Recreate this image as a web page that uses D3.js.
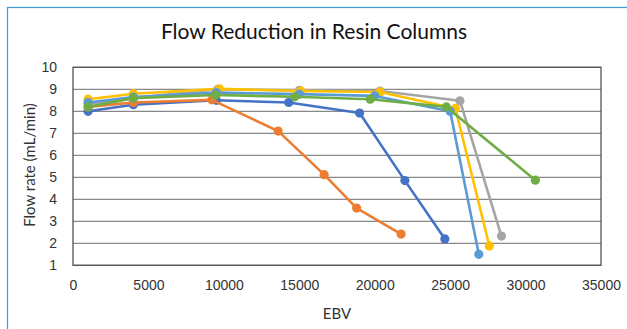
<!DOCTYPE html>
<html>
<head>
<meta charset="utf-8">
<script src="https://cdn.jsdelivr.net/npm/d3@7"></script>
<style>
  body { margin: 0; background: #fff; }
  svg { display: block; font-family: Lato, "Open Sans", sans-serif; }
</style>
</head>
<body>
<svg></svg>
<script>
// values
var xTicks = [0, 5000, 10000, 15000, 20000, 25000, 30000, 35000];
var yTicks = [1, 2, 3, 4, 5, 6, 7, 8, 9, 10];

var seriesNames = ["A", "B", "C", "D", "E", "F"];
var seriesColors = ["#4472C4", "#ED7D31", "#A5A5A5", "#FFC000", "#5B9BD5", "#70AD47"];

var darkBlue  = [[1000, 8.0], [4000, 8.3], [9500, 8.5], [14300, 8.4], [19000, 7.92], [22000, 4.85], [24650, 2.2]];
var orange    = [[1000, 8.2], [4000, 8.4], [9200, 8.52], [13600, 7.1], [16650, 5.12], [18800, 3.6], [21750, 2.42]];
var gray      = [[1000, 8.35], [4000, 8.6], [9600, 9.0], [15000, 8.95], [20350, 8.92], [25650, 8.48], [28400, 2.33]];
var yellow    = [[1000, 8.55], [4000, 8.8], [9700, 9.02], [15100, 8.92], [20350, 8.88], [25350, 8.13], [27600, 1.88]];
var lightBlue = [[1000, 8.4], [4000, 8.65], [9500, 8.85], [15000, 8.78], [20000, 8.7], [25000, 8.0], [26900, 1.5]];
var green     = [[1000, 8.2], [4000, 8.6], [9450, 8.74], [14700, 8.66], [19700, 8.55], [24750, 8.2], [30650, 4.87]];

var allSeries = [darkBlue, orange, gray, yellow, lightBlue, green];

function draw(){
  var width = 627, height = 329;
  var svg = d3.select("svg").attr("width", width).attr("height", height);

  // outer frame
  svg.append("rect")
     .attr("x", 7.5).attr("y", 7.5)
     .attr("width", 640).attr("height", 340)
     .attr("fill", "none")
     .attr("stroke", "#3E9AD6")
     .attr("stroke-width", 1.2);

  var x = d3.scaleLinear().domain([0, 35000]).range([73, 601]);
  var y = d3.scaleLinear().domain([1, 10]).range([265.3, 67.3]);

  // gridlines
  svg.append("g")
     .selectAll("line")
     .data(yTicks)
     .enter()
     .append("line")
     .attr("x1", x(0)).attr("x2", x(35000))
     .attr("y1", function(d){ return y(d); })
     .attr("y2", function(d){ return y(d); })
     .attr("stroke", "#6b6b6b")
     .attr("stroke-width", 1);

  // plot border
  svg.append("rect")
     .attr("x", x(0)).attr("y", y(10))
     .attr("width", x(35000) - x(0))
     .attr("height", y(1) - y(10))
     .attr("fill", "none")
     .attr("stroke", "#555")
     .attr("stroke-width", 1.3);

  var yAxis = d3.axisLeft(y).tickValues(yTicks).tickSize(0).tickPadding(16);
  svg.append("g")
     .attr("transform", "translate(" + x(0) + ",0)")
     .call(yAxis)
     .call(function(g){ g.select(".domain").remove(); })
     .selectAll("text")
     .attr("font-size", 14)
     .attr("fill", "#333");

  var xAxis = d3.axisBottom(x).tickValues(xTicks).tickSize(0).tickPadding(15).tickFormat(d3.format("d"));
  svg.append("g")
     .attr("transform", "translate(0," + y(1) + ")")
     .call(xAxis)
     .call(function(g){ g.select(".domain").remove(); })
     .selectAll("text")
     .attr("font-size", 14)
     .attr("fill", "#333");

  var line = d3.line()
               .x(function(d){ return x(d[0]); })
               .y(function(d){ return y(d[1]); });

  var groups = svg.append("g")
                  .selectAll("g")
                  .data(allSeries)
                  .enter()
                  .append("g");

  groups.append("path")
        .attr("d", line)
        .attr("fill", "none")
        .attr("stroke", function(d, i){ return seriesColors[i]; })
        .attr("stroke-width", 2.6)
        .attr("stroke-linejoin", "round");

  groups.each(function(s, i){
    d3.select(this).selectAll("circle")
      .data(s)
      .enter()
      .append("circle")
      .attr("cx", function(d){ return x(d[0]); })
      .attr("cy", function(d){ return y(d[1]); })
      .attr("r", 4.6)
      .attr("fill", seriesColors[i]);
  });

  svg.append("text")
     .attr("x", 314).attr("y", 39)
     .attr("text-anchor", "middle")
     .attr("font-size", 21)
     .attr("fill", "#111")
     .text("Flow Reduction in Resin Columns");

  svg.append("text")
     .attr("x", 337).attr("y", 319)
     .attr("text-anchor", "middle")
     .attr("font-size", 15)
     .attr("fill", "#333")
     .text("EBV");

  svg.append("text")
     .attr("transform", "translate(35,165) rotate(-90)")
     .attr("text-anchor", "middle")
     .attr("font-size", 15)
     .attr("fill", "#333")
     .text("Flow rate (mL/min)");
}

draw();
</script>
</body>
</html>
